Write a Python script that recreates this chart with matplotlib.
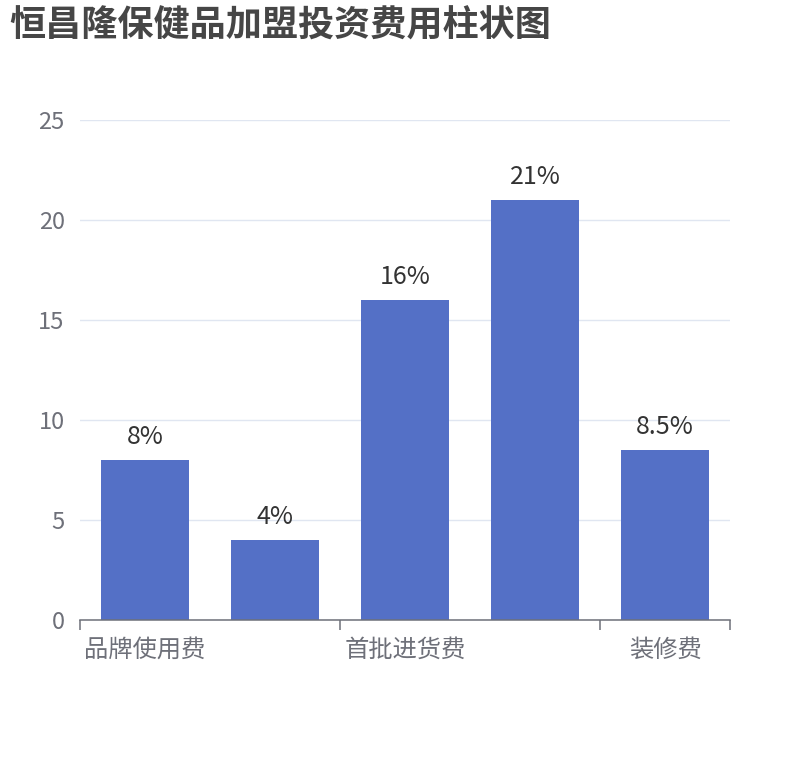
import matplotlib
matplotlib.use("Agg")
import matplotlib.pyplot as plt
from matplotlib.ticker import FixedLocator

plt.rcParams['font.family'] = ['Noto Sans CJK SC', 'DejaVu Sans']

title = "恒昌隆保健品加盟投资费用柱状图"
categories = ["品牌使用费", "保证金", "首批进货费", "设备费", "装修费"]
values = [8, 4, 16, 21, 8.5]
value_labels = ["8%", "4%", "16%", "21%", "8.5%"]
y_ticks = [0, 5, 10, 15, 20, 25]

W, H = 810, 760
fig = plt.figure(figsize=(W / 100, H / 100), dpi=100)
ax = fig.add_axes([80 / W, 1 - 620 / H, 650 / W, 500 / H])

x = list(range(len(categories)))
bars = ax.bar(x, values, width=0.68, color="#5470c6", zorder=3)

for xi, v, lab in zip(x, values, value_labels):
    ax.annotate(lab, (xi, v), xytext=(0, 7.5), textcoords="offset points",
                ha="center", va="bottom", fontsize=18, color="#333333", zorder=4)

ax.set_xlim(-0.5, len(categories) - 0.5)
ax.set_ylim(0, 25)
ax.set_yticks(y_ticks)
ax.set_yticklabels([str(t) for t in y_ticks])
ax.tick_params(axis="y", length=0, pad=11, labelsize=17, labelcolor="#6e7079")
ax.grid(axis="y", color="#e0e6f1", linewidth=1.0, zorder=0)

shown = list(range(0, len(categories), 2))
ax.set_xticks(shown)
ax.set_xticklabels([categories[i] for i in shown])
ax.tick_params(axis="x", which="major", length=0, pad=12, labelsize=17.5, labelcolor="#6e7079")
bounds = [-0.5 + i for i in range(0, len(categories), 2)] + [len(categories) - 0.5]
ax.xaxis.set_minor_locator(FixedLocator(bounds))
ax.tick_params(axis="x", which="minor", length=7, width=1.1, color="#6e7079")

for s in ["top", "right", "left"]:
    ax.spines[s].set_visible(False)
ax.spines["bottom"].set_color("#6e7079")
ax.spines["bottom"].set_linewidth(1.1)
ax.spines["bottom"].set_zorder(5)

fig.text(9 / W, 1 - 26 / H, title, ha="left", va="center", fontsize=26,
         fontweight="bold", color="#464646")

fig.savefig("out.png", dpi=100, facecolor="white")
